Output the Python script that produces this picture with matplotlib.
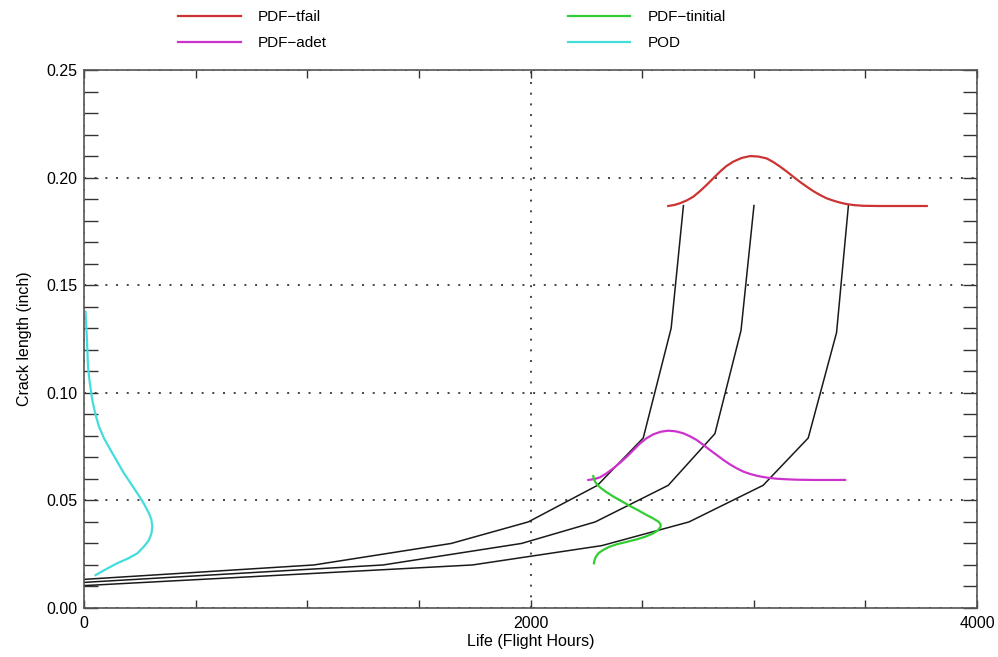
import matplotlib.pyplot as plt
from matplotlib.ticker import MultipleLocator, FormatStrFormatter

# ====================== DATA ======================
# crack growth curves (life in flight hours, crack length in inch)
life_1 = [0, 1030, 1645, 1990, 2300, 2505, 2630, 2685]
crack_1 = [0.0133, 0.020, 0.030, 0.040, 0.057, 0.079, 0.130, 0.187]

life_2 = [0, 1340, 1960, 2290, 2617, 2826, 2943, 3001]
crack_2 = [0.0119, 0.020, 0.030, 0.040, 0.057, 0.081, 0.129, 0.187]

life_3 = [0, 1740, 2320, 2710, 3042, 3244, 3371, 3424]
crack_3 = [0.0104, 0.020, 0.029, 0.040, 0.057, 0.079, 0.128, 0.187]

# PDF of failure time (drawn on top of the curves)
tfail_x = [2617, 2645, 2670, 2700, 2729, 2759, 2789, 2819, 2849, 2878, 2908,
           2945, 2983, 3020, 3058, 3088, 3118, 3148, 3177, 3207, 3237, 3267,
           3297, 3326, 3356, 3386, 3416, 3450, 3491, 3560, 3640, 3775]
tfail_y = [0.1868, 0.1873, 0.1881, 0.1894, 0.1911, 0.1937, 0.1966, 0.1997,
           0.2028, 0.2054, 0.2074, 0.2091, 0.2100, 0.2098, 0.2089, 0.2072,
           0.2051, 0.2028, 0.2004, 0.1980, 0.1958, 0.1937, 0.1919, 0.1904,
           0.1893, 0.1884, 0.1877, 0.1872, 0.1869, 0.1868, 0.1868, 0.1868]

# PDF of detectable crack time
adet_x = [2259, 2285, 2311, 2341, 2371, 2401, 2431, 2461, 2491, 2520, 2550,
          2583, 2617, 2650, 2684, 2714, 2744, 2774, 2804, 2834, 2864, 2894,
          2924, 2953, 2983, 3020, 3058, 3100, 3147, 3200, 3267, 3409]
adet_y = [0.0595, 0.0599, 0.0607, 0.0626, 0.0649, 0.0675, 0.0703, 0.0734,
          0.0765, 0.0789, 0.0807, 0.0819, 0.0824, 0.0821, 0.0812, 0.0798,
          0.0781, 0.0758, 0.0734, 0.0711, 0.0688, 0.0667, 0.0649, 0.0634,
          0.0623, 0.0613, 0.0606, 0.0601, 0.0598, 0.0596, 0.0595, 0.0595]

# PDF of initial crack size (vertical)
tinit_x = [2281, 2284, 2289, 2298, 2311, 2338, 2371, 2408, 2446, 2484,
           2520, 2550, 2573, 2582, 2583, 2572, 2550, 2516, 2476, 2430,
           2386, 2352, 2326, 2305, 2293, 2287, 2284]
tinit_y = [0.0613, 0.0600, 0.0587, 0.0574, 0.0561, 0.0540, 0.0518, 0.0496,
           0.0474, 0.0453, 0.0432, 0.0416, 0.0401, 0.0390, 0.0378, 0.0362,
           0.0347, 0.0332, 0.0319, 0.0307, 0.0296, 0.0284, 0.0270, 0.0255,
           0.0238, 0.0223, 0.0208]

# probability of detection (vertical)
pod_x = [7, 9, 12, 15, 18, 26, 37, 50, 67, 90, 119, 149, 179, 209, 239,
         267, 291, 302, 306, 302, 291, 268, 239, 197, 149, 100, 52]
pod_y = [0.1377, 0.1325, 0.1276, 0.1200, 0.1121, 0.1045, 0.0967, 0.0905,
         0.0843, 0.0788, 0.0734, 0.0680, 0.0626, 0.0580, 0.0533, 0.0487,
         0.0440, 0.0410, 0.0378, 0.0346, 0.0316, 0.0285, 0.0254, 0.0230,
         0.0208, 0.0181, 0.0153]

# ====================== FIGURE ======================
plt.rcParams['font.family'] = ['Liberation Sans', 'DejaVu Sans']

fig = plt.figure(figsize=(9.98, 6.57), dpi=100)
ax = fig.add_axes([84 / 998, 49 / 657, 893 / 998, 538 / 657])

for lx, cy in [(life_1, crack_1), (life_2, crack_2), (life_3, crack_3)]:
    ax.plot(lx, cy, color='#1a1a1a', linewidth=1.1)

ax.plot(tfail_x, tfail_y, color='#cc3333', linewidth=1.6, label='PDF\u2212tfail')
ax.plot(adet_x, adet_y, color='#cc33cc', linewidth=1.6, label='PDF\u2212adet')
ax.plot(tinit_x, tinit_y, color='#33cc33', linewidth=1.6, label='PDF\u2212tinitial')
ax.plot(pod_x, pod_y, color='#44dddd', linewidth=1.6, label='POD')

# ====================== AXES ======================
ax.set_xlim(0, 4000)
ax.set_ylim(0, 0.25)

ax.xaxis.set_major_locator(MultipleLocator(2000))
ax.xaxis.set_minor_locator(MultipleLocator(500))
ax.yaxis.set_major_locator(MultipleLocator(0.05))
ax.yaxis.set_minor_locator(MultipleLocator(0.01))
ax.yaxis.set_major_formatter(FormatStrFormatter('%.2f'))

ax.tick_params(axis='x', which='both', direction='in', top=True, bottom=True,
               length=6, width=1, color='#333333', labelsize=11.5, pad=6)
ax.tick_params(axis='y', which='both', direction='in', left=True, right=True,
               length=10, width=1, color='#333333', labelsize=11.5, pad=5)

ax.grid(True, which='major', color='#444444', linestyle=(0, (1, 4.5)), linewidth=1.4)

for s in ax.spines.values():
    s.set_color('#555555')
    s.set_linewidth(1.2)

ax.set_xlabel('Life (Flight Hours)', fontsize=11.5, labelpad=2)
ax.set_ylabel('Crack length (inch)', fontsize=11.5, labelpad=10)

# legend above the plot, two columns, no frame
handles, labels = ax.get_legend_handles_labels()
fig.legend(handles, labels, ncol=2, frameon=False, fontsize=11,
           loc='upper left', bbox_to_anchor=(178 / 998, 1 - 10 / 657),
           borderpad=0, borderaxespad=0, handlelength=4.1, handletextpad=1.1,
           columnspacing=15.8, labelspacing=0.8)

fig.savefig('out.png', dpi=100)
